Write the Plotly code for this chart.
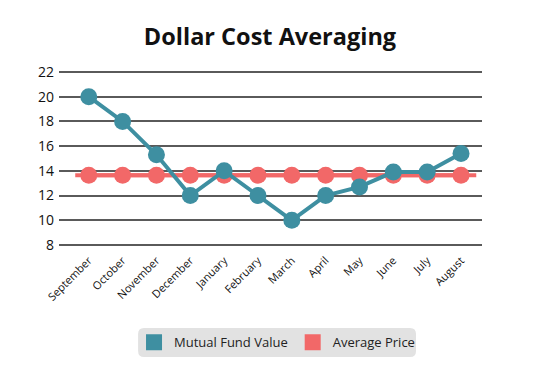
import plotly.graph_objects as go

months = ["September", "October", "November", "December", "January", "February",
          "March", "April", "May", "June", "July", "August"]
fund_value = [20, 18, 15.3, 12, 14, 12, 10, 12, 12.7, 13.9, 13.9, 15.4]
avg_price = [13.65] * 12
y_ticks = [8, 10, 12, 14, 16, 18, 20, 22]

teal = "#3e8fa1"
red = "#f26868"
font = "Open Sans"

fig = go.Figure()
# Average price line extended beyond the points
fig.add_shape(type="line", xref="x", yref="y", x0=-0.4, x1=11.45,
              y0=avg_price[0], y1=avg_price[-1], line=dict(color=red, width=4), layer="below")

# Rounded legend background
x0, x1, yt, yb = 0.187, 0.844, -0.4576, -0.6215
rx, ry = 0.014, 0.034
path = (f"M {x0+rx},{yt} L {x1-rx},{yt} Q {x1},{yt} {x1},{yt-ry} "
        f"L {x1},{yb+ry} Q {x1},{yb} {x1-rx},{yb} L {x0+rx},{yb} "
        f"Q {x0},{yb} {x0},{yb+ry} L {x0},{yt-ry} Q {x0},{yt} {x0+rx},{yt} Z")
fig.add_shape(type="path", xref="paper", yref="paper", path=path,
              fillcolor="#e2e2e2", line=dict(width=0), layer="below")

fig.add_trace(go.Scatter(x=months, y=avg_price, mode="lines+markers",
                         line=dict(color=red, width=4),
                         marker=dict(color=red, size=17), showlegend=False, cliponaxis=False))
fig.add_trace(go.Scatter(x=months, y=fund_value, mode="lines+markers",
                         line=dict(color=teal, width=4),
                         marker=dict(color=teal, size=17), showlegend=False, cliponaxis=False))
# Legend entries as squares
fig.add_trace(go.Scatter(x=[None], y=[None], mode="markers", name="Mutual Fund Value",
                         marker=dict(color=teal, symbol="square", size=16)))
fig.add_trace(go.Scatter(x=[None], y=[None], mode="markers", name="Average Price",
                         marker=dict(color=red, symbol="square", size=16)))

fig.update_layout(
    width=540, height=377,
    margin=dict(l=59, r=58, t=70, b=130, autoexpand=False),
    paper_bgcolor="white", plot_bgcolor="white",
    title=dict(text="<b>Dollar Cost Averaging</b>", x=0.5, xanchor="center",
               y=0.902, yanchor="middle", font=dict(family=font, size=23.5, color="#111")),
    font=dict(family=font, color="#222"),
    xaxis=dict(type="category", range=[-0.88, 11.62], tickangle=-45, showgrid=False,
               ticks="", tickfont=dict(size=11, color="#111"), showline=False, zeroline=False,
               ticklabelstandoff=4),
    yaxis=dict(range=[7.84, 22.16], tickvals=y_ticks, showgrid=True, gridcolor="#5a5a5a",
               gridwidth=1.5, ticks="", tickfont=dict(size=14, color="#111"),
               zeroline=False, showline=False, ticklabelstandoff=4),
    legend=dict(orientation="h", xref="container", x=0.513, xanchor="center",
                yref="container", y=0.092, yanchor="middle",
                bgcolor="rgba(0,0,0,0)", font=dict(size=13, color="#222"),
                itemsizing="trace", tracegroupgap=0),
    showlegend=True,
)

fig.write_html("out.html", config={"displayModeBar": False},
               post_script="document.body.style.margin='0';document.body.style.padding='0';")
